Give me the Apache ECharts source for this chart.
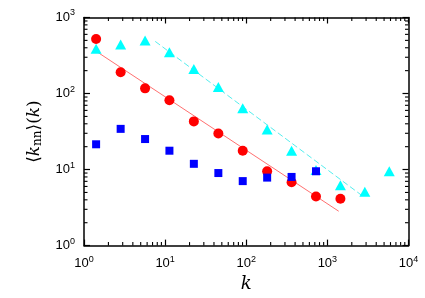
<!DOCTYPE html>
<html>
<head>
<meta charset="utf-8">
<script src="https://cdn.jsdelivr.net/npm/echarts@6/dist/echarts.min.js"></script>
<style>html,body{margin:0;padding:0;background:#fff}#c{width:425px;height:298px}</style>
</head>
<body>
<div id="c"></div>
<script>
// Data
var kBins = [1.41, 2.83, 5.66, 11.3, 22.6, 45.3, 90.5, 181, 362, 724, 1448, 2896, 5793];
var redVals = [521, 191, 117, 81.7, 43, 29.8, 17.7, 9.5, 6.8, 4.42, 4.13];
var cyanVals = [387, 440, 500, 350, 210, 122, 64, 33.6, 17.7, 9.9, 6.2, 5.1, 9.5];
var blueVals = [21.5, 34.3, 25.2, 17.7, 11.9, 9.0, 7.05, 7.84, 8.0, 9.5];
var redFitX = [1.41, 1380];
var redFitY = [360, 2.83];
var cyanFitX = [7.55, 2600];
var cyanFitY = [485, 4.65];
var xTicks = [1, 10, 100, 1000, 10000];
var yTicks = [1, 10, 100, 1000];

function pairs(xs, ys) { return ys.map(function (y, i) { return [xs[i], y]; }); }
function minorVals(maxExp) {
  var out = [];
  for (var d = 0; d < maxExp; d++) for (var m = 2; m <= 9; m++) out.push(m * Math.pow(10, d));
  return out;
}
var xMinor = minorVals(4).map(function (v) { return [v, 1]; });
var yMinor = minorVals(3).map(function (v) { return [1, v]; });

function supLabel(v) {
  var e = Math.round(Math.log10(v));
  return '{b|10}{s|' + e + '}';
}
var labelRich = {
  b: { fontSize: 13, fontFamily: 'Liberation Sans', color: '#000' },
  s: { fontSize: 9, fontFamily: 'Liberation Sans', color: '#000', padding: [0, 0, 9, 0] }
};

var chart = echarts.init(document.getElementById('c'), null, { renderer: 'canvas' });
var axisLine = { show: true, lineStyle: { color: '#000', width: 1.5 } };
var tick = { show: true, inside: true, length: 6, lineStyle: { color: '#000', width: 1.2 } };

chart.setOption({
  animation: false,
  backgroundColor: '#fff',
  grid: { left: 84, right: 16.5, top: 17.5, bottom: 48, containLabel: false },
  xAxis: [{
    type: 'log', logBase: 10, min: xTicks[0], max: xTicks[xTicks.length - 1],
    axisLine: axisLine, axisTick: tick, splitLine: { show: false },
    axisLabel: { formatter: supLabel, rich: labelRich, margin: 9, showMinLabel: true, showMaxLabel: true },
    name: '{k|k}', nameLocation: 'middle', nameGap: 28,
    nameTextStyle: { rich: { k: { fontFamily: 'DejaVu Serif', fontStyle: 'italic', fontSize: 18, color: '#000' } } }
  }, {
    type: 'log', logBase: 10, min: xTicks[0], max: xTicks[xTicks.length - 1], position: 'top',
    axisLine: axisLine, axisTick: tick, axisLabel: { show: false }, splitLine: { show: false }
  }],
  yAxis: [{
    type: 'log', logBase: 10, min: yTicks[0], max: yTicks[yTicks.length - 1],
    axisLine: axisLine, axisTick: tick, splitLine: { show: false },
    axisLabel: { formatter: supLabel, rich: labelRich, margin: 9, showMinLabel: true, showMaxLabel: true },
    name: '⟨{k|k}{n|nn}⟩({k|k})', nameLocation: 'middle', nameGap: 40, nameRotate: 90,
    nameTextStyle: {
      fontFamily: 'DejaVu Serif', fontSize: 17, color: '#000',
      rich: {
        k: { fontFamily: 'DejaVu Serif', fontStyle: 'italic', fontSize: 17, color: '#000' },
        n: { fontFamily: 'DejaVu Serif', fontSize: 12, color: '#000', padding: [6, 0, 0, 0] }
      }
    }
  }, {
    type: 'log', logBase: 10, min: yTicks[0], max: yTicks[yTicks.length - 1], position: 'right',
    axisLine: axisLine, axisTick: tick, axisLabel: { show: false }, splitLine: { show: false }
  }],
  series: [
    {
      type: 'custom', silent: true, clip: false, data: xMinor, z: 1,
      renderItem: function (params, api) {
        var v = api.value(0);
        var b = api.coord([v, yTicks[0]]);
        var t = api.coord([v, yTicks[yTicks.length - 1]]);
        var st = { stroke: '#000', lineWidth: 1.1 };
        return { type: 'group', children: [
          { type: 'line', shape: { x1: b[0], y1: b[1], x2: b[0], y2: b[1] - 3.5 }, style: st },
          { type: 'line', shape: { x1: t[0], y1: t[1], x2: t[0], y2: t[1] + 3.5 }, style: st }
        ] };
      }
    },
    {
      type: 'custom', silent: true, clip: false, data: yMinor, z: 1,
      renderItem: function (params, api) {
        var v = api.value(1);
        var l = api.coord([xTicks[0], v]);
        var r = api.coord([xTicks[xTicks.length - 1], v]);
        var st = { stroke: '#000', lineWidth: 1.1 };
        return { type: 'group', children: [
          { type: 'line', shape: { x1: l[0], y1: l[1], x2: l[0] + 3.5, y2: l[1] }, style: st },
          { type: 'line', shape: { x1: r[0], y1: r[1], x2: r[0] - 3.5, y2: r[1] }, style: st }
        ] };
      }
    },
    {
      name: 'red fit', type: 'line', data: pairs(redFitX, redFitY), symbol: 'none',
      lineStyle: { color: '#ff7070', width: 1 }, z: 2
    },
    {
      name: 'cyan fit', type: 'line', data: pairs(cyanFitX, cyanFitY), symbol: 'none',
      lineStyle: { color: '#55eeee', width: 1, type: [6, 3] }, z: 2
    },
    {
      name: 'red', type: 'scatter', data: pairs(kBins, redVals), symbol: 'circle', symbolSize: 10,
      itemStyle: { color: '#ff0000', opacity: 1 }, z: 3
    },
    {
      name: 'cyan', type: 'scatter', data: pairs(kBins, cyanVals), symbol: 'triangle', symbolSize: [11, 10],
      itemStyle: { color: '#00ffff', opacity: 1 }, z: 3
    },
    {
      name: 'blue', type: 'scatter', data: pairs(kBins, blueVals), symbol: 'rect', symbolSize: 8,
      itemStyle: { color: '#0000ff', opacity: 1 }, z: 3
    }
  ]
});
</script>
</body>
</html>
